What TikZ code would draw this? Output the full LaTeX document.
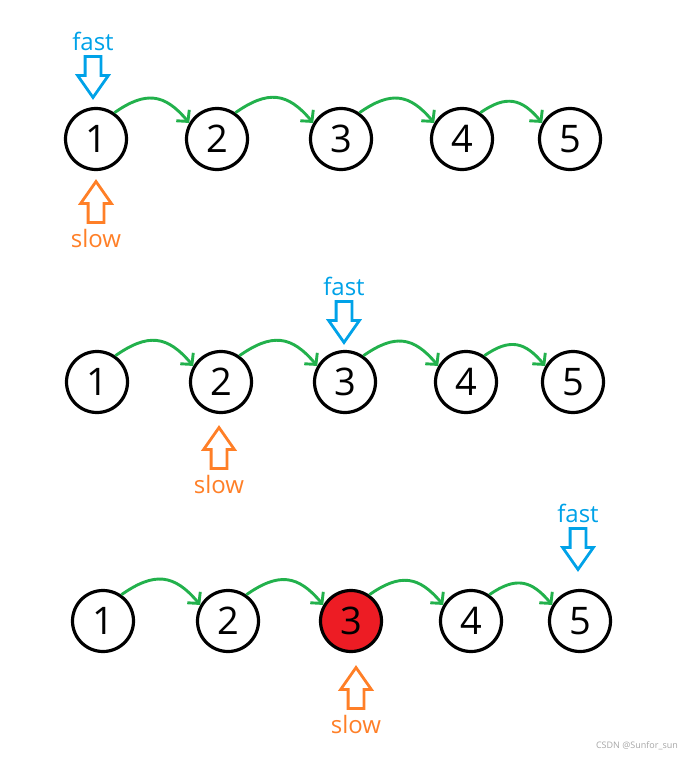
\documentclass[tikz,border=0pt]{standalone}
\usepackage{fontspec}
\setmainfont{Open Sans}
\usetikzlibrary{shapes.arrows,arrows.meta,positioning}
\definecolor{pblue}{HTML}{00A2E8}
\definecolor{porange}{HTML}{FF7F27}
\definecolor{pgreen}{HTML}{22B14C}
\definecolor{pred}{HTML}{ED1C24}
\tikzset{hl33/.style={fill=pred}}

\begin{document}
\begin{tikzpicture}[x=1pt, y=1pt,
  nd/.style={circle, draw, line width=3.2pt, fill=white, minimum size=61pt, inner sep=0pt, font=\fontsize{38}{38}\selectfont},
  lnk/.style={-{Straight Barb[length=8pt,width=17pt]}, line width=2.9pt, pgreen, out=35, in=130, looseness=1.3},
  ptr/.style={single arrow, draw=#1, line width=2.8pt, inner sep=6.5pt, minimum height=41pt, single arrow head extend=7.5pt, single arrow tip angle=70},
  lbl/.style={font=\fontsize{24}{24}\selectfont, text=#1, inner sep=1pt}
]
  \useasboundingbox (0,0) rectangle (699,-762);
  % list nodes, one row per step
  \foreach \r/\y/\xs in {1/-139/{96,217,341,462,570}, 2/-382/{97,221,345,466,573}, 3/-621/{103,228,351,471,580}}{
    \foreach \x [count=\i] in \xs {\node[nd, hl\r\i/.try] (n\r\i) at (\x,\y) {\i};}
    \foreach \i [evaluate=\i as \j using int(\i+1)] in {1,...,4}{\draw[lnk] (n\r\i.55) to (n\r\j.150);}
  }
  % Step 1
  \node[ptr=pblue, shape border rotate=270, above=7pt of n11, anchor=tip, xshift=-3pt] (f1) {};
  \node[lbl=pblue, above=3pt of f1.tail] (fl1) {fast};
  \node[ptr=porange, shape border rotate=90, below=8pt of n11, anchor=tip] (s1) {};
  \node[lbl=porange, below=4pt of s1.tail] (sl1) {slow};
  % Step 2
  \node[ptr=pblue, shape border rotate=270, above=5pt of n23, anchor=tip, xshift=-1pt] (f2) {};
  \node[lbl=pblue, above=3pt of f2.tail] (fl2) {fast};
  \node[ptr=porange, shape border rotate=90, below=11pt of n22, anchor=tip, xshift=-2pt] (s2) {};
  \node[lbl=porange, below=4pt of s2.tail] (sl2) {slow};
  % Step 3
  \node[ptr=pblue, shape border rotate=270, above=17pt of n35, anchor=tip, xshift=-2pt] (f3) {};
  \node[lbl=pblue, above=3pt of f3.tail] (fl3) {fast};
  \node[ptr=porange, shape border rotate=90, below=12pt of n33, anchor=tip, xshift=5pt] (s3) {};
  \node[lbl=porange, below=4pt of s3.tail] (sl3) {slow};
  % watermark
  \node[font=\fontsize{9}{9}\selectfont, text=black!35] (wm) at (637,-746) {CSDN @Sunfor\_sun};
\end{tikzpicture}
\end{document}
